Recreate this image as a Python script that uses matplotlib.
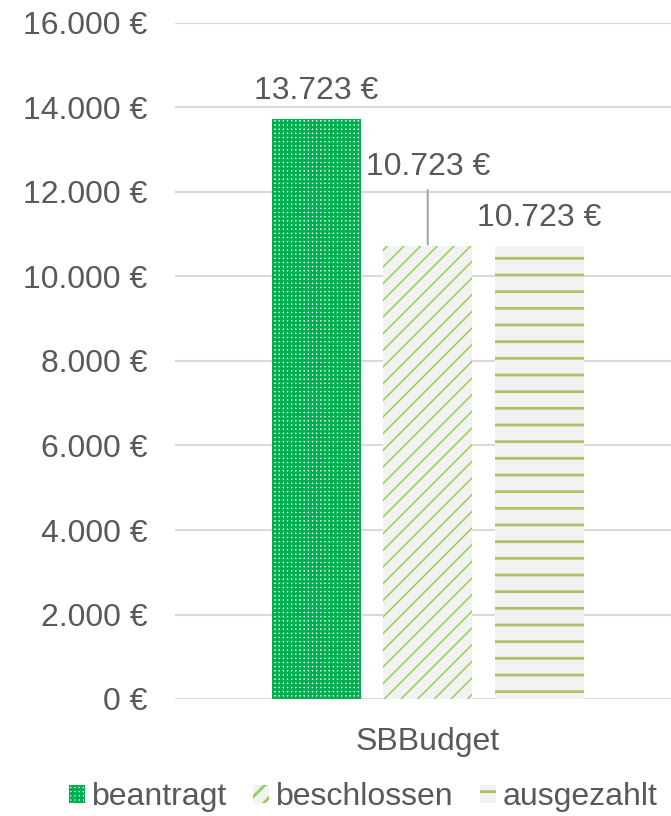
import matplotlib
matplotlib.use("Agg")
import matplotlib.pyplot as plt
from matplotlib.ticker import FuncFormatter
from matplotlib.patches import Patch

plt.rcParams["font.family"] = ["Liberation Sans", "DejaVu Sans"]

CATEGORY = "SBBudget"
SERIES = ["beantragt", "beschlossen", "ausgezahlt"]
VALUES = [13723, 10723, 10723]
LABEL_RISE = [20, 57, 20]          # label offset above bar top (pt)
FACE = ["white", "#F2F2F2", "#F2F2F2"]
HATCH_COL = ["#00B050", "#92D050", "#B3BF66"]
HATCHES = ["++++", "//", "-"]
HATCH_LW = [1.9, 1.1, 2.0]

TEXT = "#595959"
GRID = "#D9D9D9"
FS = 23


def eur(v, _=None):
    return f"{v:,.0f} €".replace(",", ".")


fig = plt.figure(figsize=(6.71, 8.16), dpi=100)
ax = fig.add_axes([175 / 671, 117 / 816, 496 / 671, 676 / 816])

xs = [-1, 0, 1]
for x, v, fc, hc, h, hlw in zip(xs, VALUES, FACE, HATCH_COL, HATCHES, HATCH_LW):
    plt.rcParams["hatch.linewidth"] = hlw
    b = ax.bar(x, v, width=0.8, color=fc, edgecolor=hc, hatch=h, linewidth=0, zorder=3)[0]
    if hasattr(b, "set_hatch_linewidth"):
        b.set_hatch_linewidth(hlw)

for x, v, rise in zip(xs, VALUES, LABEL_RISE):
    if rise > 30:
        # label lifted off the bar, joined by a leader line
        ax.annotate(eur(v), xy=(x, v), xytext=(0, rise), textcoords="offset points",
                    ha="center", va="center", fontsize=FS, color=TEXT,
                    arrowprops=dict(arrowstyle="-", color="#A6A6A6", lw=1.5,
                                    shrinkA=4, shrinkB=1, relpos=(0.5, 0)))
    else:
        ax.annotate(eur(v), xy=(x, v), xytext=(0, rise), textcoords="offset points",
                    ha="center", va="center", fontsize=FS, color=TEXT)

ax.set_ylim(0, 16000)
ax.set_xlim(-2.265, 2.18)
ax.set_yticks(range(0, 16001, 2000))
ax.yaxis.set_major_formatter(FuncFormatter(eur))
ax.set_xticks([0])
ax.set_xticklabels([CATEGORY])
ax.tick_params(axis="y", length=0, pad=20, labelsize=FS, labelcolor=TEXT)
ax.tick_params(axis="x", length=0, pad=20, labelsize=FS, labelcolor=TEXT)
ax.grid(axis="y", color=GRID, lw=1.5, zorder=0)
ax.set_axisbelow(True)
for s in ax.spines.values():
    s.set_visible(False)

handles = []
for name, fc, hc, h, hlw in zip(SERIES, FACE, HATCH_COL, HATCHES, HATCH_LW):
    plt.rcParams["hatch.linewidth"] = hlw
    p = Patch(facecolor=fc, edgecolor=hc, hatch=h, linewidth=0, label=name)
    if hasattr(p, "set_hatch_linewidth"):
        p.set_hatch_linewidth(hlw)
    handles.append(p)
fig.legend(handles=handles, loc="center", bbox_to_anchor=(363.5 / 671, 1 - 797 / 816),
           ncol=3, frameon=False, fontsize=FS, labelcolor=TEXT,
           handlelength=0.5, handleheight=0.5, handletextpad=0.22, columnspacing=0.81,
           borderpad=0, borderaxespad=0)

fig.savefig("out.png", dpi=100)
